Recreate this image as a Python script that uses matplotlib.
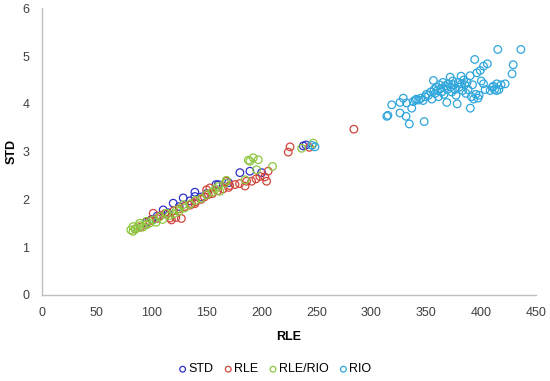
import matplotlib
matplotlib.use("Agg")
import matplotlib.pyplot as plt

plt.rcParams['font.family'] = ['Liberation Sans', 'DejaVu Sans']

std_x = [110.5, 119.6, 128.7, 139.3, 139.3, 158.5, 160.6, 180.3, 189.4, 200, 240.4, 238,
         95, 100, 105, 115, 125, 135, 145, 150, 170]
std_y = [1.78, 1.92, 2.03, 2.15, 2.06, 2.31, 2.31, 2.56, 2.59, 2.56, 3.14, 3.12,
         1.52, 1.58, 1.65, 1.72, 1.85, 1.97, 2.05, 2.12, 2.35]

rle_x = [101.4, 116.6, 118, 136.3, 139.3, 150, 153, 151.5, 171, 175.8, 186.4, 191, 198.5,
         203, 204.6, 206, 224.3, 225.9, 243.5, 284, 85, 90, 95, 98, 105, 108, 112, 120,
         125, 130, 135, 140, 145, 148, 155, 160, 165, 170, 180, 185, 195, 168, 127, 122]
rle_y = [1.71, 1.61, 1.57, 1.91, 1.91, 2.20, 2.24, 2.10, 2.29, 2.31, 2.38, 2.38, 2.48,
         2.47, 2.38, 2.59, 2.99, 3.10, 3.09, 3.47, 1.38, 1.42, 1.47, 1.55, 1.60, 1.66, 1.70, 1.76,
         1.80, 1.85, 1.88, 1.95, 2.00, 2.05, 2.12, 2.18, 2.22, 2.25, 2.33, 2.28, 2.43, 2.38, 1.60, 1.62]

rr_x = [83, 81, 85, 87, 83, 89, 89, 92, 95, 95, 98, 101.4, 104, 107.5, 110, 113.5, 116, 120,
        122.7, 125, 128.7, 130, 135, 140, 145, 150, 155, 160.6, 162, 158, 166.7, 168, 185,
        195.5, 188, 189.4, 192.5, 197, 210, 236.5, 247]
rr_y = [1.33, 1.36, 1.38, 1.40, 1.43, 1.45, 1.50, 1.42, 1.54, 1.47, 1.50, 1.57, 1.52, 1.64,
        1.58, 1.71, 1.66, 1.70, 1.78, 1.75, 1.89, 1.82, 1.90, 1.98, 2.02, 2.10, 2.15, 2.27, 2.17,
        2.22, 2.34, 2.40, 2.41, 2.62, 2.82, 2.80, 2.87, 2.83, 2.69, 3.07, 3.18]

rio_x = [314, 315, 318.5, 326, 326, 329, 331.5, 332, 334.5, 336.7, 338, 340, 341, 343, 345,
         347, 348, 349, 350, 352, 354, 355, 356.4, 357, 358, 359, 360, 361, 362, 363, 364, 365,
         366, 367, 368.6, 369, 370, 371.6, 372, 373, 374, 375, 376, 377, 378, 379, 380, 381.6,
         382, 383, 384, 385, 386, 387, 388, 389.8, 390, 391, 392, 393, 394, 395, 396, 397, 398,
         399, 400, 402, 402, 403.5, 405.5, 408, 410, 411, 412, 414, 414, 415, 416, 418, 421.7,
         428, 429, 436, 248.6, 246]
rio_y = [3.74, 3.76, 3.98, 4.03, 3.81, 4.12, 3.74, 4.02, 3.58, 3.91, 4.05, 4.08, 4.10, 4.08, 4.12,
         4.07, 3.63, 4.15, 4.20, 4.18, 4.25, 4.10, 4.49, 4.30, 4.22, 4.35, 4.28, 4.15, 4.40, 4.32,
         4.25, 4.45, 4.20, 4.38, 4.03, 4.30, 4.42, 4.56, 4.35, 4.25, 4.48, 4.40, 4.30, 4.18, 4.00,
         4.45, 4.35, 4.58, 4.42, 4.28, 4.50, 4.40, 4.22, 4.45, 4.30, 4.59, 3.91, 4.15, 4.40, 4.10,
         4.93, 4.20, 4.65, 4.12, 4.18, 4.70, 4.48, 4.79, 4.42, 4.30, 4.84, 4.28, 4.35, 4.37, 4.30,
         4.42, 4.28, 5.14, 4.30, 4.40, 4.42, 4.63, 4.82, 5.14, 3.10, 3.13]

fig = plt.figure(figsize=(5.5, 3.81), dpi=100)
ax = fig.add_axes([0.076, 0.226, 0.899, 0.752])

series = [
    ("STD", std_x, std_y, "#3030C8"),
    ("RLE", rle_x, rle_y, "#D0463C"),
    ("RLE/RIO", rr_x, rr_y, "#8CC63F"),
    ("RIO", rio_x, rio_y, "#2EA6DC"),
]
for name, xs, ys, c in series:
    ax.scatter(xs, ys, s=30, facecolors='none', edgecolors=c, linewidths=0.9, label=name)

ax.set_xlim(0, 450)
ax.set_ylim(0, 6)
ax.set_xticks(range(0, 451, 50))
ax.set_yticks(range(0, 7))
for s in ['top', 'right']:
    ax.spines[s].set_visible(False)
for s in ['left', 'bottom']:
    ax.spines[s].set_color('#c0c0c0')
    ax.spines[s].set_linewidth(1.0)
ax.tick_params(length=0, labelsize=9, colors='#404040', pad=9)
ax.set_xlabel("RLE", fontsize=9, fontweight='bold', labelpad=8)
ax.set_ylabel("STD", fontsize=9, fontweight='bold', labelpad=3)

fig.legend(loc='lower center', bbox_to_anchor=(0.5, -0.015), ncol=4, frameon=False,
           fontsize=9, handlelength=0.6, handletextpad=0.15, columnspacing=0.9,
           markerscale=0.75)

fig.savefig("out.png", dpi=100)
